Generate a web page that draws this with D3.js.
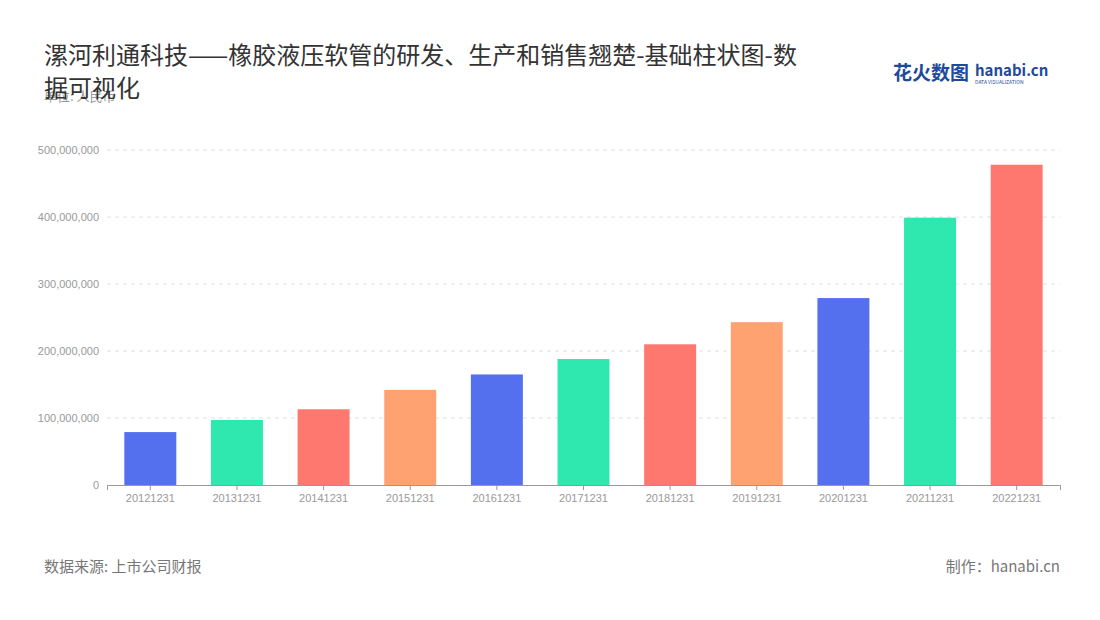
<!DOCTYPE html>
<html><head><meta charset="utf-8">
<script src="https://cdn.jsdelivr.net/npm/d3@7"></script>
<style>body{margin:0;background:#fff;font-family:"Noto Sans CJK SC","Noto Sans",sans-serif}</style>
</head><body>
<svg id="chart" width="1100" height="620"></svg>
<script>
var years = ['20121231','20131231','20141231','20151231','20161231','20171231','20181231','20191231','20201231','20211231','20221231'];
var values = [79000000, 97000000, 113000000, 142000000, 165000000, 188000000, 210000000, 243000000, 279000000, 399000000, 478000000];
var ticks = [0, 100000000, 200000000, 300000000, 400000000, 500000000];
var palette = ['#5470ee', '#2ee8b0', '#ff7870', '#ffa272'];

var svg = d3.select('#chart');
var margin = {left: 107, right: 1060, top: 150, bottom: 485};

var x = d3.scaleBand().domain(years).range([margin.left, margin.right]).paddingInner(0.4).paddingOuter(0.2);
var y = d3.scaleLinear().domain([0, 500000000]).range([margin.bottom, margin.top]);

// grid
svg.selectAll('.grid').data(ticks.slice(1)).enter().append('line')
    .attr('x1', margin.left).attr('x2', margin.right)
    .attr('y1', function(d){ return y(d); }).attr('y2', function(d){ return y(d); })
    .attr('stroke', '#e0e0e0').attr('stroke-dasharray', '4,4');

var yAxis = svg.append('g').attr('transform', 'translate(' + margin.left + ',0)')
    .call(d3.axisLeft(y).tickValues(ticks).tickFormat(d3.format(',')).tickSize(0).tickPadding(8));
yAxis.select('.domain').remove();
yAxis.selectAll('text').attr('fill', '#999').attr('font-size', 11);

svg.selectAll('.bar').data(values).enter().append('rect')
    .attr('x', function(d, i){ return x(years[i]); })
    .attr('y', function(d){ return y(d); })
    .attr('width', x.bandwidth())
    .attr('height', function(d){ return y(0) - y(d); })
    .attr('fill', function(d, i){ return palette[i % 4]; });

var xAxis = svg.append('g').attr('transform', 'translate(0,' + margin.bottom + ')')
    .call(d3.axisBottom(x).tickSize(5).tickPadding(4));
xAxis.select('.domain').attr('stroke', '#999');
xAxis.selectAll('line').attr('stroke', '#999');
xAxis.selectAll('text').attr('fill', '#999').attr('font-size', 11);

// title + notes (the unit note sits under the title's second line, as in the original)
svg.append('text').attr('x', 44).attr('y', 64).attr('font-size', 24).attr('fill', '#333')
    .text('漯河利通科技——橡胶液压软管的研发、生产和销售翘楚-基础柱状图-数');
svg.append('text').attr('x', 44).attr('y', 101).attr('font-size', 13).attr('fill', '#999').text('单位: 人民币');
svg.append('text').attr('x', 44).attr('y', 97).attr('font-size', 24).attr('fill', '#333').text('据可视化');

svg.append('text').attr('x', 44).attr('y', 572).attr('font-size', 15).attr('fill', '#777').text('数据来源: 上市公司财报');
svg.append('text').attr('x', 1060).attr('y', 572).attr('text-anchor', 'end').attr('font-size', 15).attr('fill', '#777').text('制作：hanabi.cn');

// logo
svg.append('text').attr('x', 893).attr('y', 80).attr('font-size', 19).attr('font-weight', 'bold').attr('fill', '#1e4a9c').text('花火数图');
svg.append('text').attr('x', 975).attr('y', 76).attr('font-size', 15).attr('font-weight', 'bold').attr('fill', '#1e4a9c').text('hanabi.cn');
svg.append('text').attr('x', 975).attr('y', 84).attr('font-size', 5).attr('fill', '#1e4a9c').text('DATA VISUALIZATION');
</script>
</body></html>
